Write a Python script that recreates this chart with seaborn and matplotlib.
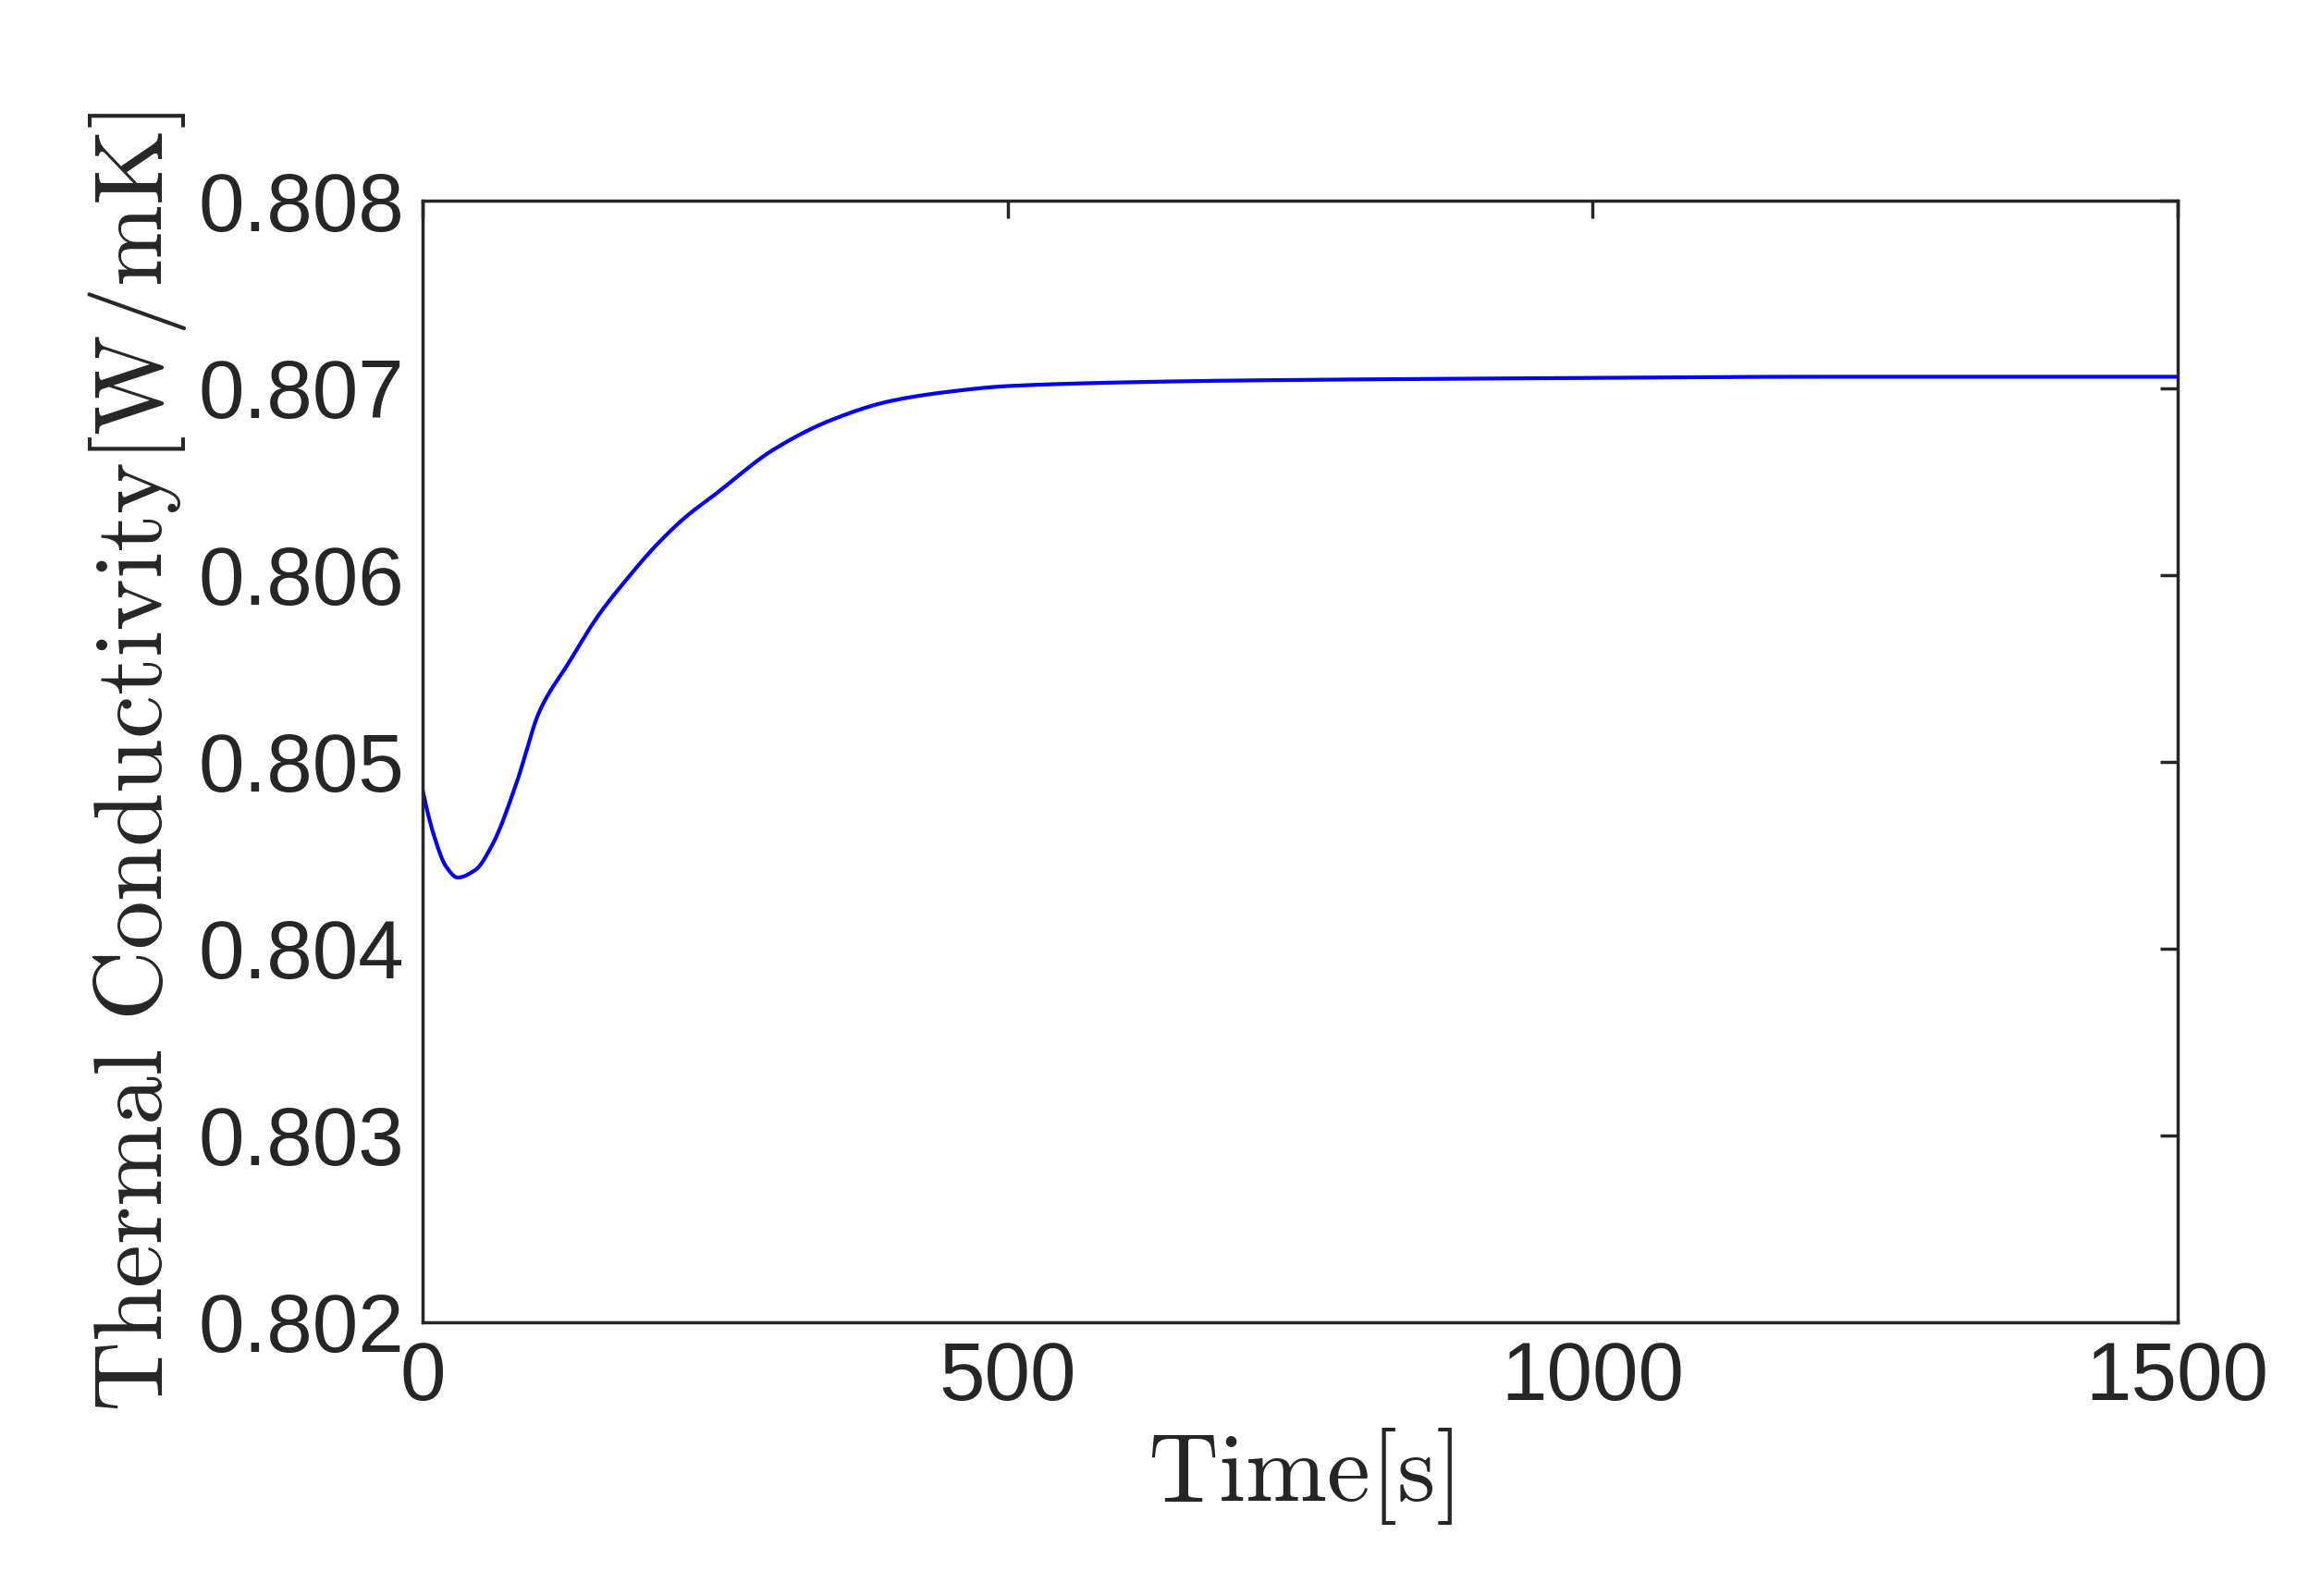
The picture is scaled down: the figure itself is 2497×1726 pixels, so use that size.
import matplotlib
matplotlib.use("Agg")
import matplotlib.pyplot as plt
import seaborn as sns
import pandas as pd
from scipy.interpolate import PchipInterpolator
import numpy as np

time_s = [0, 10, 20, 30, 45, 60, 80, 100, 125, 150, 175, 200, 225, 250, 300, 350, 400, 450, 500, 600, 700, 900, 1200, 1500]
conductivity = [0.80485, 0.80460, 0.80444, 0.80438, 0.80442, 0.80456, 0.80488, 0.80527, 0.80553, 0.80578, 0.80598, 0.80616, 0.80631, 0.80643, 0.80667, 0.80683, 0.80693, 0.80698, 0.80701, 0.80703, 0.80704, 0.80705, 0.80706, 0.80706]

xs = np.linspace(0, 1500, 1501)
ys = PchipInterpolator(time_s, conductivity)(xs)
df = pd.DataFrame({"t": xs, "k": ys})

sns.set_theme(style="white")
plt.rcParams['mathtext.fontset'] = 'cm'
plt.rcParams['font.family'] = ['Liberation Sans', 'DejaVu Sans']

fig = plt.figure(figsize=(24.97, 17.26), dpi=100)
ax = fig.add_axes([0.183, 0.1715, 0.760, 0.7025])
sns.lineplot(data=df, x="t", y="k", ax=ax, color="#0000ff", linewidth=3)
ax.set_xlim(0, 1500)
ax.set_ylim(0.802, 0.808)
ax.set_xticks([0, 500, 1000, 1500])
ax.set_yticks([0.802, 0.803, 0.804, 0.805, 0.806, 0.807, 0.808])
ax.set_yticklabels([f"{v:.3f}" for v in ax.get_yticks()])
ax.tick_params(direction="in", length=14, width=2.5, labelsize=64, colors="#262626",
               top=True, right=True, pad=14)
for s in ax.spines.values():
    s.set_color("#262626"); s.set_linewidth(2.5)
ax.set_xlabel(r"$\mathrm{Time[s]}$", fontsize=76, color="#262626", labelpad=6)
ax.set_ylabel(r"$\mathrm{Thermal\ Conductivity[W/mK]}$", fontsize=76, color="#262626", labelpad=8)
fig.savefig("out.png", dpi=100, facecolor="white")
